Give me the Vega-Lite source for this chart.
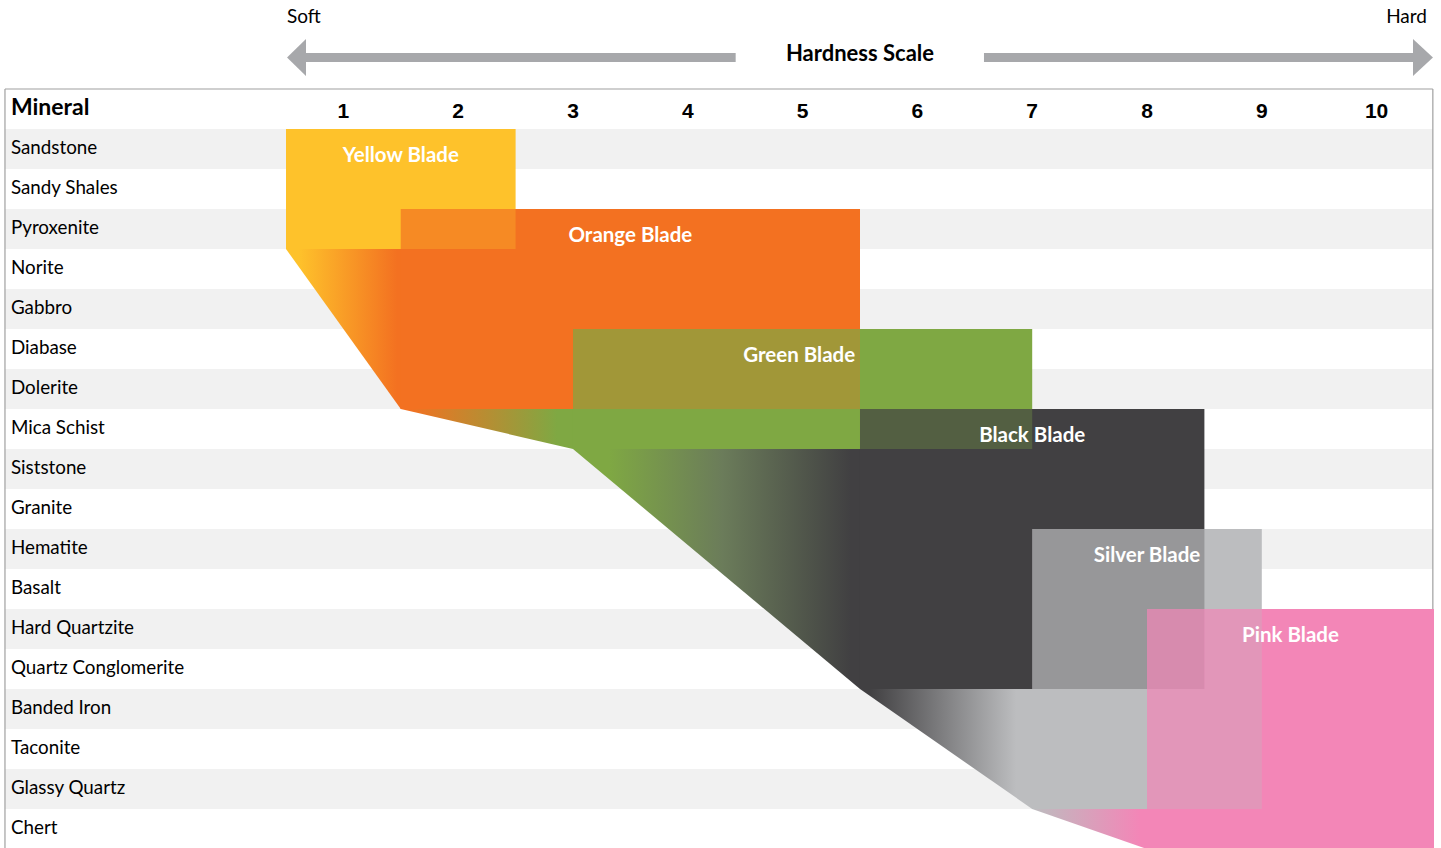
{
  "$schema": "https://vega.github.io/schema/vega-lite/v6.json",
  "width": 1441,
  "height": 848,
  "padding": 0,
  "autosize": {"type": "none"},
  "background": "white",
  "config": {"view": {"stroke": null}, "text": {"font": "Lato"}},
  "datasets": {
    "minerals": [
      {"mineral": "Sandstone", "row": 0, "top": 1, "bottom": 2},
      {"mineral": "Sandy Shales", "row": 1, "top": 2, "bottom": 3},
      {"mineral": "Pyroxenite", "row": 2, "top": 3, "bottom": 4},
      {"mineral": "Norite", "row": 3, "top": 4, "bottom": 5},
      {"mineral": "Gabbro", "row": 4, "top": 5, "bottom": 6},
      {"mineral": "Diabase", "row": 5, "top": 6, "bottom": 7},
      {"mineral": "Dolerite", "row": 6, "top": 7, "bottom": 8},
      {"mineral": "Mica Schist", "row": 7, "top": 8, "bottom": 9},
      {"mineral": "Siststone", "row": 8, "top": 9, "bottom": 10},
      {"mineral": "Granite", "row": 9, "top": 10, "bottom": 11},
      {"mineral": "Hematite", "row": 10, "top": 11, "bottom": 12},
      {"mineral": "Basalt", "row": 11, "top": 12, "bottom": 13},
      {"mineral": "Hard Quartzite", "row": 12, "top": 13, "bottom": 14},
      {"mineral": "Quartz Conglomerite", "row": 13, "top": 14, "bottom": 15},
      {"mineral": "Banded Iron", "row": 14, "top": 15, "bottom": 16},
      {"mineral": "Taconite", "row": 15, "top": 16, "bottom": 17},
      {"mineral": "Glassy Quartz", "row": 16, "top": 17, "bottom": 18},
      {"mineral": "Chert", "row": 17, "top": 18, "bottom": 19}
    ],
    "hardness": [
      {"h": 1}, {"h": 2}, {"h": 3}, {"h": 4}, {"h": 5},
      {"h": 6}, {"h": 7}, {"h": 8}, {"h": 9}, {"h": 10}
    ],
    "blades": [
      {"blade": "Yellow", "label": "Yellow Blade", "from": 0.5, "to": 2.5, "top": 1, "bottom": 4, "label_x": 1.5},
      {"blade": "Orange", "label": "Orange Blade", "from": 1.5, "to": 5.5, "top": 3, "bottom": 8, "label_x": 3.5},
      {"blade": "Green", "label": "Green Blade", "from": 3, "to": 7, "top": 6, "bottom": 9, "label_x": 4.97},
      {"blade": "Black", "label": "Black Blade", "from": 5.5, "to": 8.5, "top": 8, "bottom": 15, "label_x": 7},
      {"blade": "Silver", "label": "Silver Blade", "from": 7, "to": 9, "top": 11, "bottom": 18, "label_x": 8},
      {"blade": "Pink", "label": "Pink Blade", "from": 8, "to": 10.5, "top": 13, "bottom": 19, "label_x": 9.25}
    ],
    "overlaps": [
      {"blade": "Yellow", "from": 1.5, "to": 2.5, "top": 3, "bottom": 4},
      {"blade": "Orange", "from": 3, "to": 5.5, "top": 6, "bottom": 8},
      {"blade": "Green", "from": 5.5, "to": 7, "top": 8, "bottom": 9},
      {"blade": "Black", "from": 7, "to": 8.5, "top": 11, "bottom": 13},
      {"blade": "Black", "from": 7, "to": 8, "top": 13, "bottom": 15},
      {"blade": "Silver", "from": 8.5, "to": 9, "top": 13, "bottom": 15},
      {"blade": "Silver", "from": 8, "to": 9, "top": 15, "bottom": 18},
      {"blade": "SilverOverBlack", "from": 8, "to": 8.5, "top": 13, "bottom": 15}
    ],
    "transitions": [
      {"seg": "YO", "x": 0.5, "y": 3.95, "y2": 4},
      {"seg": "YO", "x": 1.5, "y": 3.95, "y2": 8},
      {"seg": "YO", "x": 1.6, "y": 3.95, "y2": 8},
      {"seg": "OG", "x": 1.5, "y": 7.95, "y2": 8},
      {"seg": "OG", "x": 3, "y": 7.95, "y2": 9},
      {"seg": "OG", "x": 3.1, "y": 7.95, "y2": 9},
      {"seg": "GB", "x": 3, "y": 8.95, "y2": 9},
      {"seg": "GB", "x": 5.5, "y": 8.95, "y2": 15},
      {"seg": "GB", "x": 5.6, "y": 8.95, "y2": 15},
      {"seg": "BS", "x": 5.5, "y": 14.95, "y2": 15},
      {"seg": "BS", "x": 7, "y": 14.95, "y2": 18},
      {"seg": "BS", "x": 7.1, "y": 14.95, "y2": 18},
      {"seg": "SP", "x": 7, "y": 17.95, "y2": 18},
      {"seg": "SP", "x": 8, "y": 17.95, "y2": 19},
      {"seg": "SP", "x": 8.1, "y": 17.95, "y2": 19}
    ],
    "border": [
      {"x": -1.948, "x2": 10.49, "y": 0, "y2": 0},
      {"x": -1.948, "x2": -1.948, "y": 0, "y2": 19},
      {"x": 10.49, "x2": 10.49, "y": 0, "y2": 19}
    ],
    "shafts": [
      {"from": 0.62, "to": 4.417, "top": -0.9, "bottom": -0.675},
      {"from": 6.58, "to": 10.37, "top": -0.9, "bottom": -0.675}
    ],
    "heads": [
      {"side": "left", "x": 0.509, "y": -0.7875, "y2": -0.7875},
      {"side": "left", "x": 0.674, "y": -1.25, "y2": -0.325},
      {"side": "right", "x": 10.317, "y": -1.25, "y2": -0.325},
      {"side": "right", "x": 10.491, "y": -0.7875, "y2": -0.7875}
    ]
  },
  "layer": [
    {
      "data": {"name": "minerals"},
      "transform": [{"filter": "datum.row % 2 == 0"}],
      "mark": {"type": "rect", "color": "#F1F1F1"},
      "encoding": {
        "x": {"datum": -1.948, "type": "quantitative", "scale": {"domain": [-1.9913, 10.561], "nice": false, "zero": false}, "axis": null},
        "x2": {"datum": 10.49},
        "y": {"field": "top", "type": "quantitative", "scale": {"domain": [-2.225, 18.975], "nice": false, "zero": false, "reverse": true}, "axis": null},
        "y2": {"field": "bottom"}
      }
    },
    {
      "data": {"name": "border"},
      "mark": {"type": "rule", "color": "#A0A0A0", "strokeWidth": 1.2},
      "encoding": {
        "x": {"field": "x", "type": "quantitative", "scale": {"domain": [-1.9913, 10.561], "nice": false, "zero": false}, "axis": null},
        "x2": {"field": "x2"},
        "y": {"field": "y", "type": "quantitative", "scale": {"domain": [-2.225, 18.975], "nice": false, "zero": false, "reverse": true}, "axis": null},
        "y2": {"field": "y2"}
      }
    },
    {
      "data": {"name": "transitions"},
      "transform": [{"filter": "datum.seg == 'YO'"}],
      "mark": {"type": "area", "orient": "vertical", "color": {"gradient": "linear", "x1": 0, "y1": 0, "x2": 1, "y2": 0, "stops": [{"offset": 0, "color": "#FEC22B"}, {"offset": 0.1, "color": "#FEC22B"}, {"offset": 0.88, "color": "#F37121"}, {"offset": 1, "color": "#F37121"}]}},
      "encoding": {
        "x": {"field": "x", "type": "quantitative", "scale": {"domain": [-1.9913, 10.561], "nice": false, "zero": false}, "axis": null},
        "y": {"field": "y", "type": "quantitative", "scale": {"domain": [-2.225, 18.975], "nice": false, "zero": false, "reverse": true}, "axis": null},
        "y2": {"field": "y2"}
      }
    },
    {
      "data": {"name": "transitions"},
      "transform": [{"filter": "datum.seg == 'OG'"}],
      "mark": {"type": "area", "orient": "vertical", "color": {"gradient": "linear", "x1": 0, "y1": 0, "x2": 1, "y2": 0, "stops": [{"offset": 0, "color": "#F37121"}, {"offset": 0.05, "color": "#F37121"}, {"offset": 0.85, "color": "#7FA843"}, {"offset": 1, "color": "#7FA843"}]}},
      "encoding": {
        "x": {"field": "x", "type": "quantitative", "scale": {"domain": [-1.9913, 10.561], "nice": false, "zero": false}, "axis": null},
        "y": {"field": "y", "type": "quantitative", "scale": {"domain": [-2.225, 18.975], "nice": false, "zero": false, "reverse": true}, "axis": null},
        "y2": {"field": "y2"}
      }
    },
    {
      "data": {"name": "transitions"},
      "transform": [{"filter": "datum.seg == 'GB'"}],
      "mark": {"type": "area", "orient": "vertical", "color": {"gradient": "linear", "x1": 0, "y1": 0, "x2": 1, "y2": 0, "stops": [{"offset": 0, "color": "#7FA843"}, {"offset": 0.12, "color": "#7FA843"}, {"offset": 0.5, "color": "#6B7C5A"}, {"offset": 0.93, "color": "#414042"}, {"offset": 1, "color": "#414042"}]}},
      "encoding": {
        "x": {"field": "x", "type": "quantitative", "scale": {"domain": [-1.9913, 10.561], "nice": false, "zero": false}, "axis": null},
        "y": {"field": "y", "type": "quantitative", "scale": {"domain": [-2.225, 18.975], "nice": false, "zero": false, "reverse": true}, "axis": null},
        "y2": {"field": "y2"}
      }
    },
    {
      "data": {"name": "transitions"},
      "transform": [{"filter": "datum.seg == 'BS'"}],
      "mark": {"type": "area", "orient": "vertical", "color": {"gradient": "linear", "x1": 0, "y1": 0, "x2": 1, "y2": 0, "stops": [{"offset": 0, "color": "#414042"}, {"offset": 0.05, "color": "#414042"}, {"offset": 0.85, "color": "#BCBDBF"}, {"offset": 1, "color": "#BCBDBF"}]}},
      "encoding": {
        "x": {"field": "x", "type": "quantitative", "scale": {"domain": [-1.9913, 10.561], "nice": false, "zero": false}, "axis": null},
        "y": {"field": "y", "type": "quantitative", "scale": {"domain": [-2.225, 18.975], "nice": false, "zero": false, "reverse": true}, "axis": null},
        "y2": {"field": "y2"}
      }
    },
    {
      "data": {"name": "transitions"},
      "transform": [{"filter": "datum.seg == 'SP'"}],
      "mark": {"type": "area", "orient": "vertical", "color": {"gradient": "linear", "x1": 0, "y1": 0, "x2": 1, "y2": 0, "stops": [{"offset": 0, "color": "#BCBDBF"}, {"offset": 0.85, "color": "#F386B7"}, {"offset": 1, "color": "#F386B7"}]}},
      "encoding": {
        "x": {"field": "x", "type": "quantitative", "scale": {"domain": [-1.9913, 10.561], "nice": false, "zero": false}, "axis": null},
        "y": {"field": "y", "type": "quantitative", "scale": {"domain": [-2.225, 18.975], "nice": false, "zero": false, "reverse": true}, "axis": null},
        "y2": {"field": "y2"}
      }
    },
    {
      "data": {"name": "blades"},
      "mark": {"type": "rect"},
      "encoding": {
        "x": {"field": "from", "type": "quantitative", "scale": {"domain": [-1.9913, 10.561], "nice": false, "zero": false}, "axis": null},
        "x2": {"field": "to"},
        "y": {"field": "top", "type": "quantitative", "scale": {"domain": [-2.225, 18.975], "nice": false, "zero": false, "reverse": true}, "axis": null},
        "y2": {"field": "bottom"},
        "color": {"field": "blade", "type": "nominal", "legend": null, "scale": {"domain": ["Yellow", "Orange", "Green", "Black", "Silver", "Pink", "SilverOverBlack"], "range": ["#FEC22B", "#F37121", "#7FA843", "#414042", "#BCBDBF", "#F386B7", "#97989A"]}}
      }
    },
    {
      "data": {"name": "overlaps"},
      "mark": {"type": "rect", "opacity": 0.3},
      "encoding": {
        "x": {"field": "from", "type": "quantitative", "scale": {"domain": [-1.9913, 10.561], "nice": false, "zero": false}, "axis": null},
        "x2": {"field": "to"},
        "y": {"field": "top", "type": "quantitative", "scale": {"domain": [-2.225, 18.975], "nice": false, "zero": false, "reverse": true}, "axis": null},
        "y2": {"field": "bottom"},
        "color": {"field": "blade", "type": "nominal", "legend": null, "scale": {"domain": ["Yellow", "Orange", "Green", "Black", "Silver", "Pink", "SilverOverBlack"], "range": ["#FEC22B", "#F37121", "#7FA843", "#414042", "#BCBDBF", "#F386B7", "#97989A"]}}
      }
    },
    {
      "data": {"name": "blades"},
      "mark": {"type": "text", "color": "white", "font": "Lato", "fontWeight": "bold", "fontSize": 20.5, "align": "center", "baseline": "alphabetic", "dy": 32.5},
      "encoding": {
        "x": {"field": "label_x", "type": "quantitative", "scale": {"domain": [-1.9913, 10.561], "nice": false, "zero": false}, "axis": null},
        "y": {"field": "top", "type": "quantitative", "scale": {"domain": [-2.225, 18.975], "nice": false, "zero": false, "reverse": true}, "axis": null},
        "text": {"field": "label"}
      }
    },
    {
      "data": {"name": "minerals"},
      "mark": {"type": "text", "color": "#000000", "font": "Lato", "fontSize": 18.8, "align": "left", "baseline": "alphabetic", "dy": 25},
      "encoding": {
        "x": {"datum": -1.896, "type": "quantitative", "scale": {"domain": [-1.9913, 10.561], "nice": false, "zero": false}, "axis": null},
        "y": {"field": "top", "type": "quantitative", "scale": {"domain": [-2.225, 18.975], "nice": false, "zero": false, "reverse": true}, "axis": null},
        "text": {"field": "mineral"}
      }
    },
    {
      "data": {"values": [{"label": "Mineral"}]},
      "mark": {"type": "text", "color": "#000000", "font": "Lato", "fontWeight": "bold", "fontSize": 23, "align": "left", "baseline": "alphabetic"},
      "encoding": {
        "x": {"datum": -1.896, "type": "quantitative", "scale": {"domain": [-1.9913, 10.561], "nice": false, "zero": false}, "axis": null},
        "y": {"datum": 0.65, "type": "quantitative", "scale": {"domain": [-2.225, 18.975], "nice": false, "zero": false, "reverse": true}, "axis": null},
        "text": {"field": "label"}
      }
    },
    {
      "data": {"name": "hardness"},
      "mark": {"type": "text", "color": "#000000", "font": "Liberation Sans", "fontWeight": "bold", "fontSize": 21, "align": "center", "baseline": "alphabetic"},
      "encoding": {
        "x": {"field": "h", "type": "quantitative", "scale": {"domain": [-1.9913, 10.561], "nice": false, "zero": false}, "axis": null},
        "y": {"datum": 0.73, "type": "quantitative", "scale": {"domain": [-2.225, 18.975], "nice": false, "zero": false, "reverse": true}, "axis": null},
        "text": {"field": "h"}
      }
    },
    {
      "data": {"name": "shafts"},
      "mark": {"type": "rect", "color": "#A7A8AB"},
      "encoding": {
        "x": {"field": "from", "type": "quantitative", "scale": {"domain": [-1.9913, 10.561], "nice": false, "zero": false}, "axis": null},
        "x2": {"field": "to"},
        "y": {"field": "top", "type": "quantitative", "scale": {"domain": [-2.225, 18.975], "nice": false, "zero": false, "reverse": true}, "axis": null},
        "y2": {"field": "bottom"}
      }
    },
    {
      "data": {"name": "heads"},
      "mark": {"type": "area", "orient": "vertical", "color": "#A7A8AB"},
      "encoding": {
        "x": {"field": "x", "type": "quantitative", "scale": {"domain": [-1.9913, 10.561], "nice": false, "zero": false}, "axis": null},
        "y": {"field": "y", "type": "quantitative", "scale": {"domain": [-2.225, 18.975], "nice": false, "zero": false, "reverse": true}, "axis": null},
        "y2": {"field": "y2"},
        "detail": {"field": "side"}
      }
    },
    {
      "data": {"values": [{"label": "Soft"}]},
      "mark": {"type": "text", "color": "#000000", "font": "Lato", "fontSize": 19, "align": "left", "baseline": "alphabetic"},
      "encoding": {
        "x": {"datum": 0.509, "type": "quantitative", "scale": {"domain": [-1.9913, 10.561], "nice": false, "zero": false}, "axis": null},
        "y": {"datum": -1.65, "type": "quantitative", "scale": {"domain": [-2.225, 18.975], "nice": false, "zero": false, "reverse": true}, "axis": null},
        "text": {"field": "label"}
      }
    },
    {
      "data": {"values": [{"label": "Hard"}]},
      "mark": {"type": "text", "color": "#000000", "font": "Lato", "fontSize": 19, "align": "right", "baseline": "alphabetic"},
      "encoding": {
        "x": {"datum": 10.439, "type": "quantitative", "scale": {"domain": [-1.9913, 10.561], "nice": false, "zero": false}, "axis": null},
        "y": {"datum": -1.65, "type": "quantitative", "scale": {"domain": [-2.225, 18.975], "nice": false, "zero": false, "reverse": true}, "axis": null},
        "text": {"field": "label"}
      }
    },
    {
      "data": {"values": [{"label": "Hardness Scale"}]},
      "mark": {"type": "text", "color": "#000000", "font": "Lato", "fontWeight": "bold", "fontSize": 22, "align": "center", "baseline": "alphabetic"},
      "encoding": {
        "x": {"datum": 5.5, "type": "quantitative", "scale": {"domain": [-1.9913, 10.561], "nice": false, "zero": false}, "axis": null},
        "y": {"datum": -0.7075, "type": "quantitative", "scale": {"domain": [-2.225, 18.975], "nice": false, "zero": false, "reverse": true}, "axis": null},
        "text": {"field": "label"}
      }
    }
  ]
}
